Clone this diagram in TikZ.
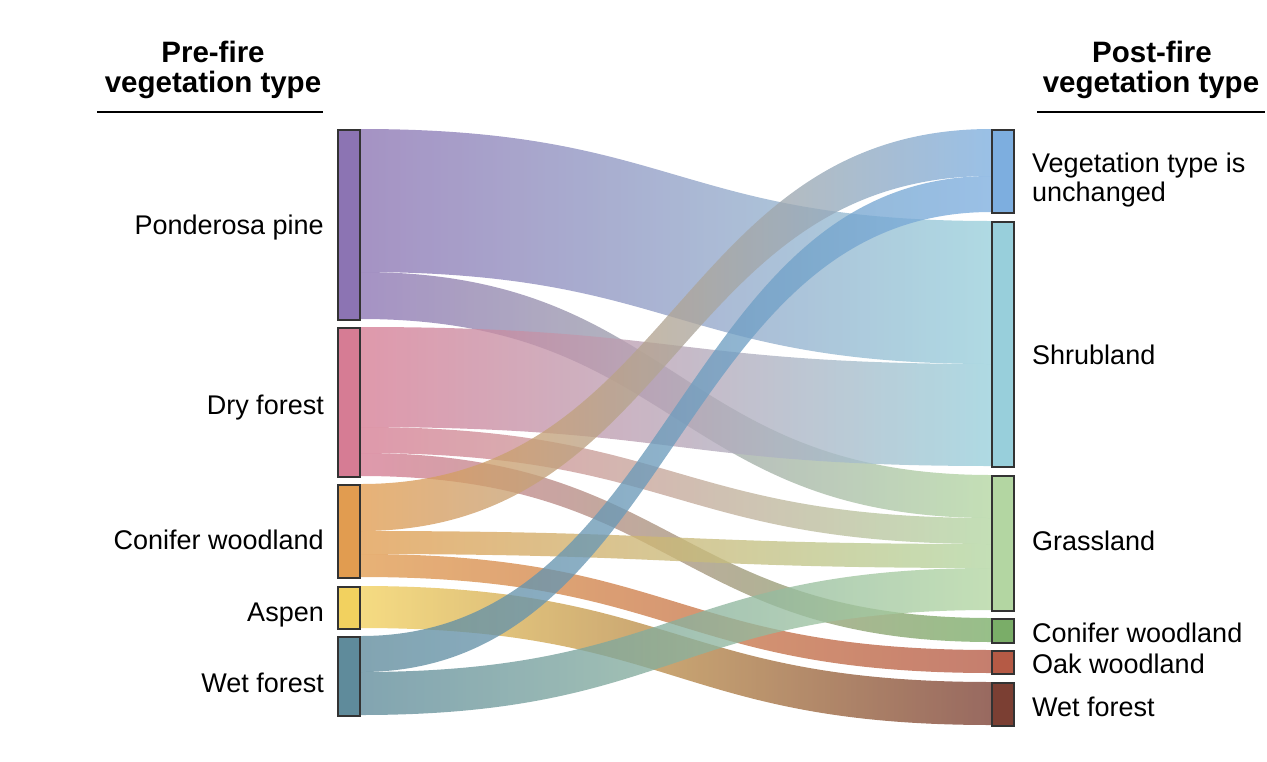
\documentclass[tikz,border=0pt]{standalone}
\usepackage{fontspec}
\setmainfont{Liberation Sans}
\usetikzlibrary{calc}
\pgfdeclarelayer{bg}
\pgfsetlayers{bg,main}
\definecolor{boxline}{HTML}{333333}
\definecolor{cPP}{HTML}{8C74B3}
\definecolor{cDry}{HTML}{D67C94}
\definecolor{cCon}{HTML}{E19C50}
\definecolor{cAsp}{HTML}{F2D15F}
\definecolor{cWet}{HTML}{5F8B9B}
\definecolor{cUnch}{HTML}{7DAEDF}
\definecolor{cShr}{HTML}{98CFDB}
\definecolor{cGra}{HTML}{B3D6A2}
\definecolor{cConR}{HTML}{7AAD68}
\definecolor{cOak}{HTML}{B55A45}
\definecolor{cWetR}{HTML}{7B3F33}
\tikzset{
  vbox/.style={draw=boxline, line width=2pt, inner sep=0pt, minimum width=22pt},
  lbl/.style={font=\fontsize{27}{29}\selectfont, inner sep=0pt, text=black},
  ttl/.style={font=\bfseries\fontsize{29.5}{31}\selectfont, inner sep=0pt, anchor=base, text=black},
  uline/.style={line width=2.5pt, black},
  band/.style={fill opacity=0.78}
}
% #1 src node, #2/#3 src offsets, #4 tgt node, #5/#6 tgt offsets, #7/#8 colours
\newcommand{\sflow}[8]{%
  \shade[band, left color=#7, right color=#8]
    let \p1=(#1.north east), \p2=(#4.north west), \p3=($(#1.east)!0.5!(#4.west)$) in
    (\x1,\y1-#2pt) .. controls (\x3,\y1-#2pt) and (\x3,\y2-#5pt) .. (\x2,\y2-#5pt)
    -- (\x2,\y2-#6pt) .. controls (\x3,\y2-#6pt) and (\x3,\y1-#3pt) .. (\x1,\y1-#3pt) -- cycle;
}
\begin{document}
\begin{tikzpicture}[x=1pt,y=-1pt]
\useasboundingbox (0,0) rectangle (1267,761);
% source nodes
\node[vbox, fill=cPP,  minimum height=190pt] (pp)  at (349,225)   {};
\node[vbox, fill=cDry, minimum height=149pt] (dry) at (349,402.5) {};
\node[vbox, fill=cCon, minimum height=93pt]  (con) at (349,531.5) {};
\node[vbox, fill=cAsp, minimum height=42pt]  (asp) at (349,608)   {};
\node[vbox, fill=cWet, minimum height=79pt]  (wet) at (349,676.5) {};
% target nodes
\node[vbox, fill=cUnch, minimum height=83pt]  (unch) at (1003,171.5) {};
\node[vbox, fill=cShr,  minimum height=245pt] (shr)  at (1003,344.5) {};
\node[vbox, fill=cGra,  minimum height=135pt] (gra)  at (1003,543.5) {};
\node[vbox, fill=cConR, minimum height=24pt]  (conr) at (1003,631)   {};
\node[vbox, fill=cOak,  minimum height=23pt]  (oak)  at (1003,662.5) {};
\node[vbox, fill=cWetR, minimum height=43pt]  (wetr) at (1003,704.5) {};
% flows
\begin{pgfonlayer}{bg}
\sflow{pp}{0}{143}{shr}{0}{143}{cPP}{cShr}
\sflow{pp}{143}{190}{gra}{0}{43}{cPP}{cGra}
\sflow{dry}{0}{100}{shr}{143}{245}{cDry}{cShr}
\sflow{dry}{100}{126}{gra}{43}{69}{cDry}{cGra}
\sflow{dry}{126}{149}{conr}{0}{24}{cDry}{cConR}
\sflow{con}{0}{47}{unch}{0}{47}{cCon}{cUnch}
\sflow{con}{47}{70}{gra}{69}{93}{cCon}{cGra}
\sflow{con}{70}{93}{oak}{0}{23}{cCon}{cOak}
\sflow{asp}{0}{42}{wetr}{0}{43}{cAsp}{cWetR}
\sflow{wet}{0}{36}{unch}{47}{83}{cWet}{cUnch}
\sflow{wet}{36}{79}{gra}{93}{135}{cWet}{cGra}
\end{pgfonlayer}
% left labels
\node[lbl, anchor=base east] (lpp)  at (324,234) {Ponderosa pine};
\node[lbl, anchor=base east] (ldry) at (324,414) {Dry forest};
\node[lbl, anchor=base east] (lcon) at (324,549) {Conifer woodland};
\node[lbl, anchor=base east] (lasp) at (324,621) {Aspen};
\node[lbl, anchor=base east] (lwet) at (324,692) {Wet forest};
% right labels
\node[lbl, anchor=base west] (runch1) at (1032,172) {Vegetation type is};
\node[lbl, anchor=base west] (runch2) at (1032,201) {unchanged};
\node[lbl, anchor=base west] (rshr)  at (1032,364) {Shrubland};
\node[lbl, anchor=base west] (rgra)  at (1032,550) {Grassland};
\node[lbl, anchor=base west] (rconr) at (1032,642) {Conifer woodland};
\node[lbl, anchor=base west] (roak)  at (1032,673) {Oak woodland};
\node[lbl, anchor=base west] (rwetr) at (1032,716) {Wet forest};
% titles
\node[ttl] (tl1) at (213,62) {Pre-fire};
\node[ttl] (tl2) at (213,92) {vegetation type};
\node[ttl] (tr1) at (1152,62) {Post-fire};
\node[ttl] (tr2) at (1151,92) {vegetation type};
\coordinate (ulA) at (97,112);
\coordinate (ulB) at (323,112);
\coordinate (urA) at (1037,112);
\coordinate (urB) at (1265,112);
\draw[uline] (ulA) -- (ulB);
\draw[uline] (urA) -- (urB);
\end{tikzpicture}
\end{document}
